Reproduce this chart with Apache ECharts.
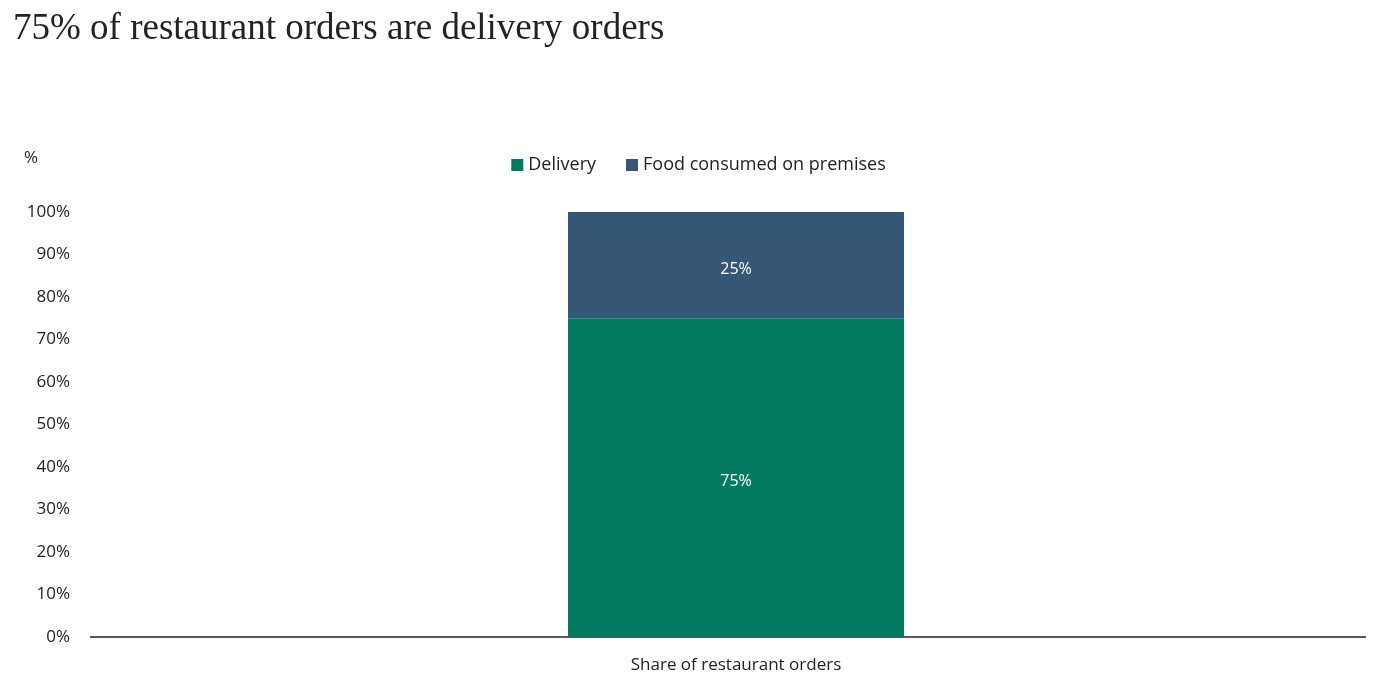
<!DOCTYPE html>
<html><head><meta charset="utf-8">
<script src="https://cdn.jsdelivr.net/npm/echarts@6/dist/echarts.min.js"></script>
<style>html,body{margin:0;padding:0;background:#fff}#c{width:1397px;height:681px}</style>
</head><body><div id="c"></div>
<script>
const categories = ["Share of restaurant orders"];
const delivery = [75];
const premises = [25];
const chart = echarts.init(document.getElementById('c'));
const lbl = {show:true, color:'#fff', fontSize:16, fontFamily:'Open Sans', offset:[0,4], formatter: p => p.value + '%'};
chart.setOption({
  title:{text:'75% of restaurant orders are delivery orders', left:8, top:6,
    textStyle:{fontFamily:'Liberation Serif', fontWeight:'normal', fontSize:37, color:'#222'}},
  legend:{top:151, left:'center', itemWidth:12, itemHeight:12, icon:'rect', itemGap:30,
    textStyle:{fontFamily:'Open Sans', fontSize:18, color:'#222'}},
  grid:{left:106, right:31, top:212, bottom:44},
  graphic:[{type:'line', shape:{x1:90, y1:637, x2:1366, y2:637}, style:{stroke:'#222', lineWidth:1.3}}],
  xAxis:{type:'category', data:categories,
    axisLine:{show:false}, axisTick:{show:false},
    axisLabel:{fontFamily:'Open Sans', fontSize:17, color:'#222', margin:20}},
  yAxis:{type:'value', min:0, max:100, interval:10, name:'%', nameLocation:'end', nameGap:45,
    nameTextStyle:{fontFamily:'Open Sans', fontSize:17, color:'#222', align:'left', padding:[0,0,0,-82]},
    splitLine:{show:false}, axisLine:{show:false}, axisTick:{show:false},
    axisLabel:{formatter:'{value}%', fontFamily:'Open Sans', fontSize:17, color:'#222', margin:36}},
  series:[
    {name:'Delivery', type:'bar', stack:'a', data:delivery, barWidth:336, itemStyle:{color:'#007B5F'}, label:lbl},
    {name:'Food consumed on premises', type:'bar', stack:'a', data:premises, barWidth:336, itemStyle:{color:'#365675'}, label:lbl}
  ]
});
</script></body></html>
